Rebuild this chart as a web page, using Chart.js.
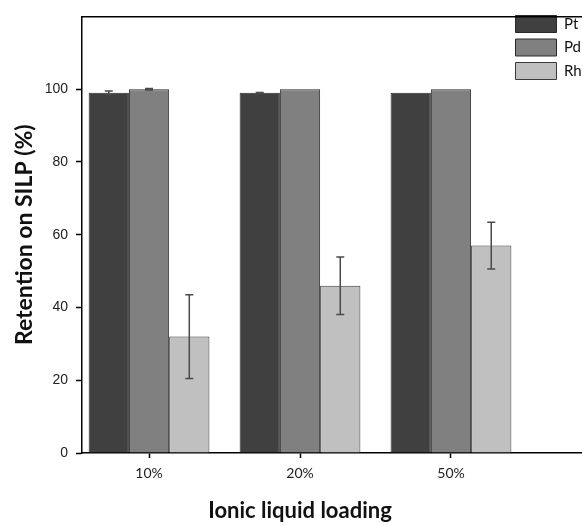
<!DOCTYPE html>
<html>
<head>
<meta charset="utf-8">
<script src="https://cdn.jsdelivr.net/npm/chart.js@4"></script>
<style>
html, body { margin: 0; padding: 0; background: #fff; overflow: hidden; }
#myChart { display: block; }
</style>
</head>
<body>
<canvas id="myChart" width="600" height="525"></canvas>
<script>
var loadings = ['10%', '20%', '50%'];
var pt = [99, 99, 99];
var ptErr = [0.5, 0.1, 0];
var pd = [100, 100, 100];
var pdErr = [0.2, 0, 0];
var rh = [32, 46, 57];
var rhErr = [11.5, 7.9, 6.4];
var yTicks = [0, 20, 40, 60, 80, 100];

function points(values) {
    return values.map(function (v, i) { return { x: i + 1, y: v }; });
}

// error bars, drawn through the y scale
var errorBars = {
    id: 'errorBars',
    afterDatasetsDraw: function (chart) {
        var ctx = chart.ctx;
        var yScale = chart.scales.y;
        ctx.save();
        ctx.strokeStyle = '#4a4a4a';
        ctx.lineWidth = 1.5;
        chart.data.datasets.forEach(function (ds, d) {
            var meta = chart.getDatasetMeta(d);
            meta.data.forEach(function (bar, i) {
                var err = ds.errors[i];
                if (!err) return;
                var v = ds.data[i].y;
                var top = yScale.getPixelForValue(v + err);
                var bot = yScale.getPixelForValue(v - err);
                ctx.beginPath();
                ctx.moveTo(bar.x, top); ctx.lineTo(bar.x, bot);
                ctx.moveTo(bar.x - 4, top); ctx.lineTo(bar.x + 4, top);
                ctx.moveTo(bar.x - 4, bot); ctx.lineTo(bar.x + 4, bot);
                ctx.stroke();
            });
        });
        ctx.restore();
    }
};

// move the legend into the top right corner of the plot
var legendCorner = {
    id: 'legendCorner',
    afterLayout: function (chart) {
        var lg = chart.legend;
        var h = lg.height;
        var w = lg.width;
        lg.left = 509;
        lg.right = lg.left + w;
        lg.top = 9;
        lg.bottom = lg.top + Math.max(h, 90);
    }
};

var ctx = document.getElementById('myChart').getContext('2d');
var myChart = new Chart(ctx, {
    type: 'bar',
    data: {
        datasets: [{
                label: 'Pt',
                data: points(pt),
                errors: ptErr,
                backgroundColor: '#404040',
                borderColor: '#2a2a2a',
                borderWidth: 1
            },
            {
                label: 'Pd',
                data: points(pd),
                errors: pdErr,
                backgroundColor: '#808080',
                borderColor: '#2a2a2a',
                borderWidth: 1
            },
            {
                label: 'Rh',
                data: points(rh),
                errors: rhErr,
                backgroundColor: '#c0c0c0',
                borderColor: '#3a3a3a',
                borderWidth: 1
            }
        ]
    },
    plugins: [errorBars, legendCorner],
    options: {
        responsive: false,
        animation: false,
        categoryPercentage: 0.8,
        barPercentage: 1.0,
        layout: { padding: { top: 12, left: 0, right: 0, bottom: 0 } },
        plugins: {
            legend: {
                position: 'chartArea',
                align: 'start',
                labels: {
                    boxWidth: 41,
                    boxHeight: 17,
                    padding: 6.5,
                    color: '#111',
                    font: { family: 'Lato', size: 15 }
                }
            },
            title: {
                display: true,
                position: 'bottom',
                text: 'Ionic liquid loading',
                color: '#111',
                font: { family: 'Lato', size: 22, weight: 'bold' },
                padding: { top: 9, bottom: 1 }
            },
            tooltip: { enabled: false }
        },
        scales: {
            x: {
                type: 'linear',
                position: 'bottom',
                min: 0.556,
                max: 3.987,
                offset: false,
                afterBuildTicks: function (scale) {
                    scale.ticks = loadings.map(function (l, i) { return { value: i + 1 }; });
                },
                afterFit: function (scale) { scale.height = 35.6; },
                ticks: {
                    padding: 7,
                    color: '#222',
                    font: { family: 'Lato', size: 14 },
                    callback: function (v) { return loadings[v - 1]; }
                },
                grid: {
                    offset: false,
                    drawOnChartArea: false,
                    drawTicks: true,
                    tickLength: 5,
                    tickColor: '#000',
                    tickWidth: 1.5
                },
                border: { display: true, color: '#000', width: 1.5 }
            },
            x2: {
                type: 'linear',
                position: 'top',
                min: 0.556,
                max: 3.987,
                afterFit: function (scale) { scale.height = 0; },
                ticks: { display: false },
                grid: { display: false },
                border: { display: true, color: '#000', width: 1.5 }
            },
            y: {
                min: 0,
                max: 120,
                afterBuildTicks: function (scale) {
                    scale.ticks = yTicks.map(function (v) { return { value: v }; });
                },
                afterFit: function (scale) { scale.width = 82; },
                ticks: {
                    padding: 8,
                    color: '#222',
                    font: { family: 'Liberation Sans', size: 14 }
                },
                grid: {
                    drawOnChartArea: false,
                    drawTicks: true,
                    tickLength: 6,
                    tickColor: '#000',
                    tickWidth: 1.5
                },
                border: { display: true, color: '#000', width: 1.5 },
                title: {
                    display: true,
                    text: 'Retention on SILP (%)',
                    color: '#111',
                    font: { family: 'Lato', size: 23, weight: 'bold' },
                    padding: { top: 11, bottom: 0 }
                }
            }
        }
    }
});
</script>
</body>
</html>
